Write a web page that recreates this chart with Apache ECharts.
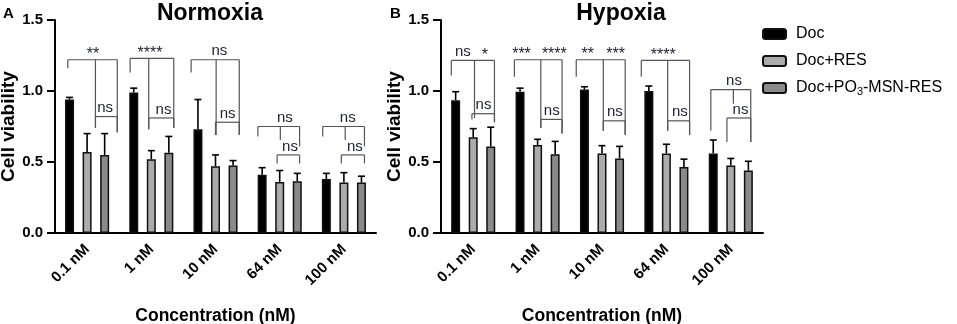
<!DOCTYPE html>
<html>
<head>
<meta charset="utf-8">
<script src="https://cdn.jsdelivr.net/npm/echarts@6/dist/echarts.min.js"></script>
<style>
  html, body { margin: 0; padding: 0; background: #fff; }
  #chart { width: 957px; height: 324px; }
</style>
</head>
<body>
<div id="chart"></div>
<script>
const concentrations = ['0.1 nM', '1 nM', '10 nM', '64 nM', '100 nM']
const seriesNames = ['Doc', 'Doc+RES', 'Doc+PO3-MSN-RES']

// A: Normoxia (mean, SD shown as upper error bar)
const normDoc = [0.94, 0.99, 0.73, 0.41, 0.38]
const normDocSd = [0.015, 0.03, 0.21, 0.05, 0.04]
const normRes = [0.57, 0.52, 0.47, 0.36, 0.355]
const normResSd = [0.13, 0.06, 0.08, 0.08, 0.07]
const normPo3 = [0.55, 0.565, 0.475, 0.365, 0.355]
const normPo3Sd = [0.15, 0.115, 0.035, 0.055, 0.045]

// B: Hypoxia
const hypDoc = [0.935, 0.995, 1.01, 1.0, 0.56]
const hypDocSd = [0.06, 0.025, 0.02, 0.035, 0.095]
const hypRes = [0.675, 0.62, 0.56, 0.56, 0.475]
const hypResSd = [0.06, 0.04, 0.055, 0.065, 0.05]
const hypPo3 = [0.61, 0.555, 0.525, 0.465, 0.44]
const hypPo3Sd = [0.135, 0.09, 0.085, 0.055, 0.065]

// significance brackets: x in fractions of a category band, y in viability units
// top: [left, mid, right, level, leftEnd, midEnd, rightEnd]
const normTop = [
  [-0.30, 0.13, 0.47, 1.22, 1.16, 0.74, 0.71],
  [-0.33, -0.04, 0.35, 1.23, 1.13, 0.73, 0.74],
  [-0.38, 0.01, 0.37, 1.22, 1.13, 0.69, 0.69],
  [-0.34, 0.01, 0.31, 0.75, 0.68, 0.655, 0.61],
  [-0.33, 0.02, 0.32, 0.75, 0.68, 0.655, 0.61],
]
// low: [left, right, level, leftEnd, rightEnd]
const normLow = [
  [0.13, 0.47, 0.82, 0.74, 0.71],
  [-0.04, 0.35, 0.81, 0.73, 0.74],
  [0.0, 0.37, 0.78, 0.69, 0.69],
  [-0.04, 0.31, 0.55, 0.49, 0.49],
  [-0.04, 0.32, 0.55, 0.49, 0.49],
]
const normTopLabels = [[['**', 0.09]], [['****', -0.02]], [['ns', 0.06]], [['ns', 0.08]], [['ns', 0.06]]]
const normLowLabels = [['ns', 0.28], ['ns', 0.19], ['ns', 0.19], ['ns', 0.16], ['ns', 0.17]]

const hypTop = [
  [-0.34, 0.02, 0.33, 1.215, 1.11, 0.81, 0.78],
  [-0.36, 0.05, 0.38, 1.22, 1.10, 0.74, 0.70],
  [-0.40, 0.02, 0.36, 1.22, 1.10, 0.72, 0.69],
  [-0.39, 0.02, 0.36, 1.215, 1.10, 0.72, 0.69],
  [-0.31, 0.04, 0.31, 1.01, 0.72, 0.91, 0.64],
]
const hypLow = [
  [-0.02, 0.33, 0.84, 0.80, 0.78],
  [0.05, 0.38, 0.80, 0.74, 0.70],
  [0.02, 0.36, 0.79, 0.72, 0.69],
  [0.02, 0.36, 0.79, 0.72, 0.69],
  [-0.06, 0.31, 0.81, 0.64, 0.64],
]
const hypTopLabels = [[['ns', -0.16], ['*', 0.18]], [['***', -0.25], ['****', 0.26]], [['**', -0.22], ['***', 0.21]], [['****', -0.05]], [['ns', 0.05]]]
const hypLowLabels = [['ns', 0.16], ['ns', 0.22], ['ns', 0.2], ['ns', 0.21], ['ns', 0.15]]

const FONT = '"Liberation Sans", Arial, sans-serif'
const BAR_W = 9
const BAR_GAP = 0.95
const SLOT = BAR_W * (1 + BAR_GAP)
const colors = ['#000000', '#ababab', '#8a8a8a']

const chart = echarts.init(document.getElementById('chart'))

function barSeries(name, idx, data, color) {
  return {
    name, type: 'bar', xAxisIndex: idx, yAxisIndex: idx, data,
    barWidth: BAR_W, barGap: (BAR_GAP * 100) + '%',
    itemStyle: { color, borderColor: '#111', borderWidth: 1.5 },
    z: 2,
  }
}

function errorSeries(idx, groups) {
  const rows = []
  groups.forEach(([mean, sd], k) => {
    mean.forEach((v, i) => rows.push([i, v, v + sd[i], k]))
  })
  return {
    type: 'custom', xAxisIndex: idx, yAxisIndex: idx, data: rows, z: 3,
    renderItem: (params, api) => {
      const k = api.value(3)
      const p = api.coord([api.value(0), api.value(1)])
      const q = api.coord([api.value(0), api.value(2)])
      const x = p[0] + (k - 1) * SLOT
      return {
        type: 'group',
        children: [
          { type: 'line', shape: { x1: x, y1: p[1], x2: x, y2: q[1] }, style: { stroke: '#000', lineWidth: 1.6 } },
          { type: 'line', shape: { x1: x - 3.5, y1: q[1], x2: x + 3.5, y2: q[1] }, style: { stroke: '#000', lineWidth: 1.6 } },
        ],
      }
    },
  }
}

function bracketSeries(idx, top, low, topLabels, lowLabels) {
  return {
    type: 'custom', xAxisIndex: idx, yAxisIndex: idx, z: 4,
    data: concentrations.map((c, i) => [i, 0]),
    renderItem: (params, api) => {
      const i = api.value(0)
      const band = api.size([1, 0])[0]
      const cx = api.coord([i, 0])[0]
      const X = (f) => cx + f * band
      const Y = (v) => api.coord([i, v])[1]
      const ln = (x1, y1, x2, y2) => ({ type: 'line', shape: { x1, y1, x2, y2 }, style: { stroke: '#555', lineWidth: 1.2 } })
      const [l, m, r, lv, le, me, re] = top[i]
      const [a, b, lo, ae, be] = low[i]
      const kids = [
        ln(X(l), Y(lv), X(r), Y(lv)),
        ln(X(l), Y(lv), X(l), Y(le)),
        ln(X(m), Y(lv), X(m), Y(me)),
        ln(X(r), Y(lv), X(r), Y(re)),
        ln(X(a), Y(lo), X(b), Y(lo)),
        ln(X(a), Y(lo), X(a), Y(ae)),
        ln(X(b), Y(lo), X(b), Y(be)),
      ]
      const txt = (t, x, y) => {
        const star = t.indexOf('*') >= 0
        return {
          type: 'text',
          style: {
            text: t, x, y: star ? y + 3 : y - 1,
            textAlign: 'center', textVerticalAlign: 'bottom',
            font: (star ? '16px ' : '15px ') + FONT, fill: '#1c1f33',
          },
        }
      }
      topLabels[i].forEach(([t, f]) => kids.push(txt(t, X(f), Y(lv))))
      kids.push(txt(lowLabels[i][0], X(lowLabels[i][1]), Y(lo)))
      return { type: 'group', children: kids }
    },
  }
}

function xAxis(idx) {
  return {
    type: 'category', gridIndex: idx, data: concentrations,
    name: 'Concentration (nM)', nameLocation: 'middle', nameGap: 74,
    nameTextStyle: { fontFamily: FONT, fontWeight: 'bold', fontSize: 17.5, color: '#000' },
    axisLine: { lineStyle: { color: '#000', width: 2 } },
    axisTick: { alignWithLabel: true, length: 9, lineStyle: { width: 2, color: '#000' } },
    axisLabel: { interval: 0, rotate: 45, margin: 14, fontFamily: FONT, fontWeight: 'bold', fontSize: 15, color: '#000' },
  }
}

function yAxis(idx) {
  return {
    type: 'value', gridIndex: idx, min: 0, max: 1.5, interval: 0.5,
    name: 'Cell viability', nameLocation: 'middle', nameGap: 35,
    nameTextStyle: { fontFamily: FONT, fontWeight: 'bold', fontSize: 19, color: '#000' },
    axisLine: { show: true, lineStyle: { color: '#000', width: 2 } },
    axisTick: { show: true, length: 8, lineStyle: { width: 2, color: '#000' } },
    axisLabel: { margin: 12, fontFamily: FONT, fontWeight: 'bold', fontSize: 15, color: '#000', formatter: (v) => v.toFixed(1) },
    splitLine: { show: false },
  }
}

const option = {
  animation: false,
  backgroundColor: '#fff',
  grid: [
    { left: 55, top: 20, width: 321, height: 213, outerBoundsMode: 'none' },
    { left: 441, top: 20, width: 322, height: 213, outerBoundsMode: 'none' },
  ],
  xAxis: [xAxis(0), xAxis(1)],
  yAxis: [yAxis(0), yAxis(1)],
  legend: {
    data: seriesNames,
    orient: 'vertical', left: 757, top: 21,
    itemWidth: 23, itemHeight: 10, itemGap: 11,
    formatter: (n) => n === 'Doc+PO3-MSN-RES' ? 'Doc+PO{sub|3}-MSN-RES' : n,
    textStyle: {
      fontFamily: FONT, fontSize: 16, color: '#000', padding: [0, 0, 0, 5],
      rich: { sub: { fontFamily: FONT, fontSize: 11, padding: [8, 0, 0, 0] } },
    },
  },
  graphic: [
    { type: 'text', x: 210, y: 2, style: { text: 'Normoxia', font: 'bold 23px ' + FONT, textAlign: 'center', textVerticalAlign: 'top', fill: '#000' } },
    { type: 'text', x: 621, y: 2, style: { text: 'Hypoxia', font: 'bold 23px ' + FONT, textAlign: 'center', textVerticalAlign: 'top', fill: '#000' } },
    { type: 'text', x: 3, y: 6, style: { text: 'A', font: 'bold 15px ' + FONT, fill: '#000' } },
    { type: 'text', x: 390, y: 6, style: { text: 'B', font: 'bold 15px ' + FONT, fill: '#000' } },
  ],
  series: [
    barSeries(seriesNames[0], 0, normDoc, colors[0]),
    barSeries(seriesNames[1], 0, normRes, colors[1]),
    barSeries(seriesNames[2], 0, normPo3, colors[2]),
    barSeries(seriesNames[0], 1, hypDoc, colors[0]),
    barSeries(seriesNames[1], 1, hypRes, colors[1]),
    barSeries(seriesNames[2], 1, hypPo3, colors[2]),
    errorSeries(0, [[normDoc, normDocSd], [normRes, normResSd], [normPo3, normPo3Sd]]),
    errorSeries(1, [[hypDoc, hypDocSd], [hypRes, hypResSd], [hypPo3, hypPo3Sd]]),
    bracketSeries(0, normTop, normLow, normTopLabels, normLowLabels),
    bracketSeries(1, hypTop, hypLow, hypTopLabels, hypLowLabels),
  ],
}

chart.setOption(option)
</script>
</body>
</html>
